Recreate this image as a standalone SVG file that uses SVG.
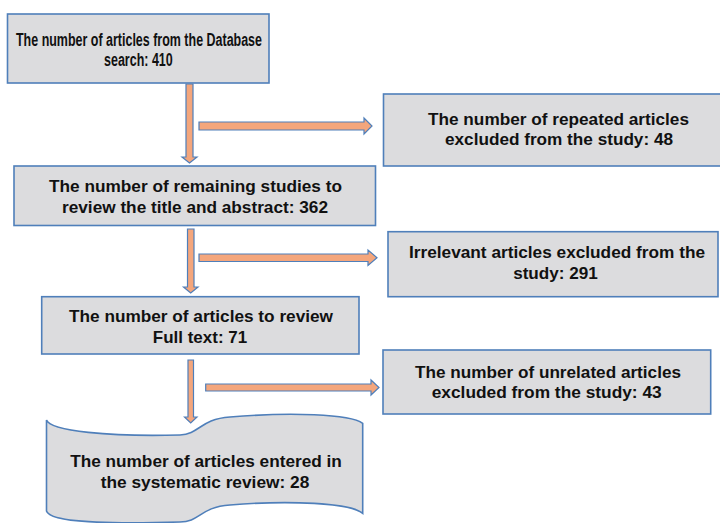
<svg xmlns="http://www.w3.org/2000/svg" width="720" height="523" viewBox="0 0 720 523">
<style>
.box{fill:#dcdcde;stroke:#4f7fba;stroke-width:1.6}
.arr{fill:#f4a67c;stroke:#4f7fba;stroke-width:1.2;stroke-linejoin:miter}
text{font-family:"Liberation Sans",Arial,sans-serif;font-weight:bold;font-size:17px;fill:#111;text-anchor:middle}
text.narrow{font-family:"Liberation Sans Narrow","Liberation Sans",Arial,sans-serif;font-size:18px}
</style>
<rect width="720" height="523" fill="#ffffff"/>
<g id="connectors">
<path class="arr" d="M186,84 H193 V157 H197 L189.5,163 L182,157 H186 Z"/>
<path class="arr" d="M199,122 H364 V118 L372,126 L364,134 V130 H199 Z"/>
<path class="arr" d="M187.5,229 H194 V287 H198 L190.7,293 L183.5,287 H187.5 Z"/>
<path class="arr" d="M199,254 H368 V250 L377,257.7 L368,265.5 V261.5 H199 Z"/>
<path class="arr" d="M188,360 H193.5 V417 H197 L190.7,423 L184.5,417 H188 Z"/>
<path class="arr" d="M205.7,384 H371 V380 L379,387.5 L371,395 V391 H205.7 Z"/>
</g>
<g id="n1">
<rect class="box" x="7.5" y="14" width="261.5" height="69"/>
<text class="narrow" x="139" y="45.5" textLength="246" lengthAdjust="spacingAndGlyphs">The number of articles from the Database</text>
<text class="narrow" x="138.4" y="66" textLength="68.7" lengthAdjust="spacingAndGlyphs">search: 410</text>
</g>
<g id="n2">
<rect class="box" x="383.5" y="94" width="340" height="72"/>
<text x="558.5" y="125" textLength="261" lengthAdjust="spacingAndGlyphs">The number of repeated articles</text>
<text x="559" y="145" textLength="228" lengthAdjust="spacingAndGlyphs">excluded from the study: 48</text>
</g>
<g id="n3">
<rect class="box" x="14" y="166" width="361.5" height="59.5"/>
<text x="195.5" y="191.7" textLength="293" lengthAdjust="spacingAndGlyphs">The number of remaining studies to</text>
<text x="195" y="212.7" textLength="266" lengthAdjust="spacingAndGlyphs">review the title and abstract: 362</text>
</g>
<g id="n4">
<rect class="box" x="388" y="231.7" width="330" height="65"/>
<text x="557" y="258" textLength="296" lengthAdjust="spacingAndGlyphs">Irrelevant articles excluded from the</text>
<text x="555.5" y="279.3" textLength="84.7" lengthAdjust="spacingAndGlyphs">study: 291</text>
</g>
<g id="n5">
<rect class="box" x="41.7" y="296.7" width="317.3" height="57.3"/>
<text x="201" y="321.7" textLength="264" lengthAdjust="spacingAndGlyphs">The number of articles to review</text>
<text x="200" y="342.7" textLength="94.3" lengthAdjust="spacingAndGlyphs">Full text: 71</text>
</g>
<g id="n6">
<rect class="box" x="383" y="350" width="327.7" height="64"/>
<text x="548" y="378.3" textLength="266" lengthAdjust="spacingAndGlyphs">The number of unrelated articles</text>
<text x="546.7" y="398.3" textLength="230" lengthAdjust="spacingAndGlyphs">excluded from the study: 43</text>
</g>
<g id="n7">
<path class="box" d="M46.5,420 C50,431 110,437 180,435 C200,434 200,419 230,417 C290,412 350,414 362.7,423.3 L362.7,513.3 C350,503 290,500 230,505 C200,507 200,522 180,522 C110,524 50,523 46.5,511 Z"/>
<text x="206" y="467.3" textLength="271.7" lengthAdjust="spacingAndGlyphs">The number of articles entered in</text>
<text x="205" y="488.3" textLength="208.6" lengthAdjust="spacingAndGlyphs">the systematic review: 28</text>
</g>
</svg>
